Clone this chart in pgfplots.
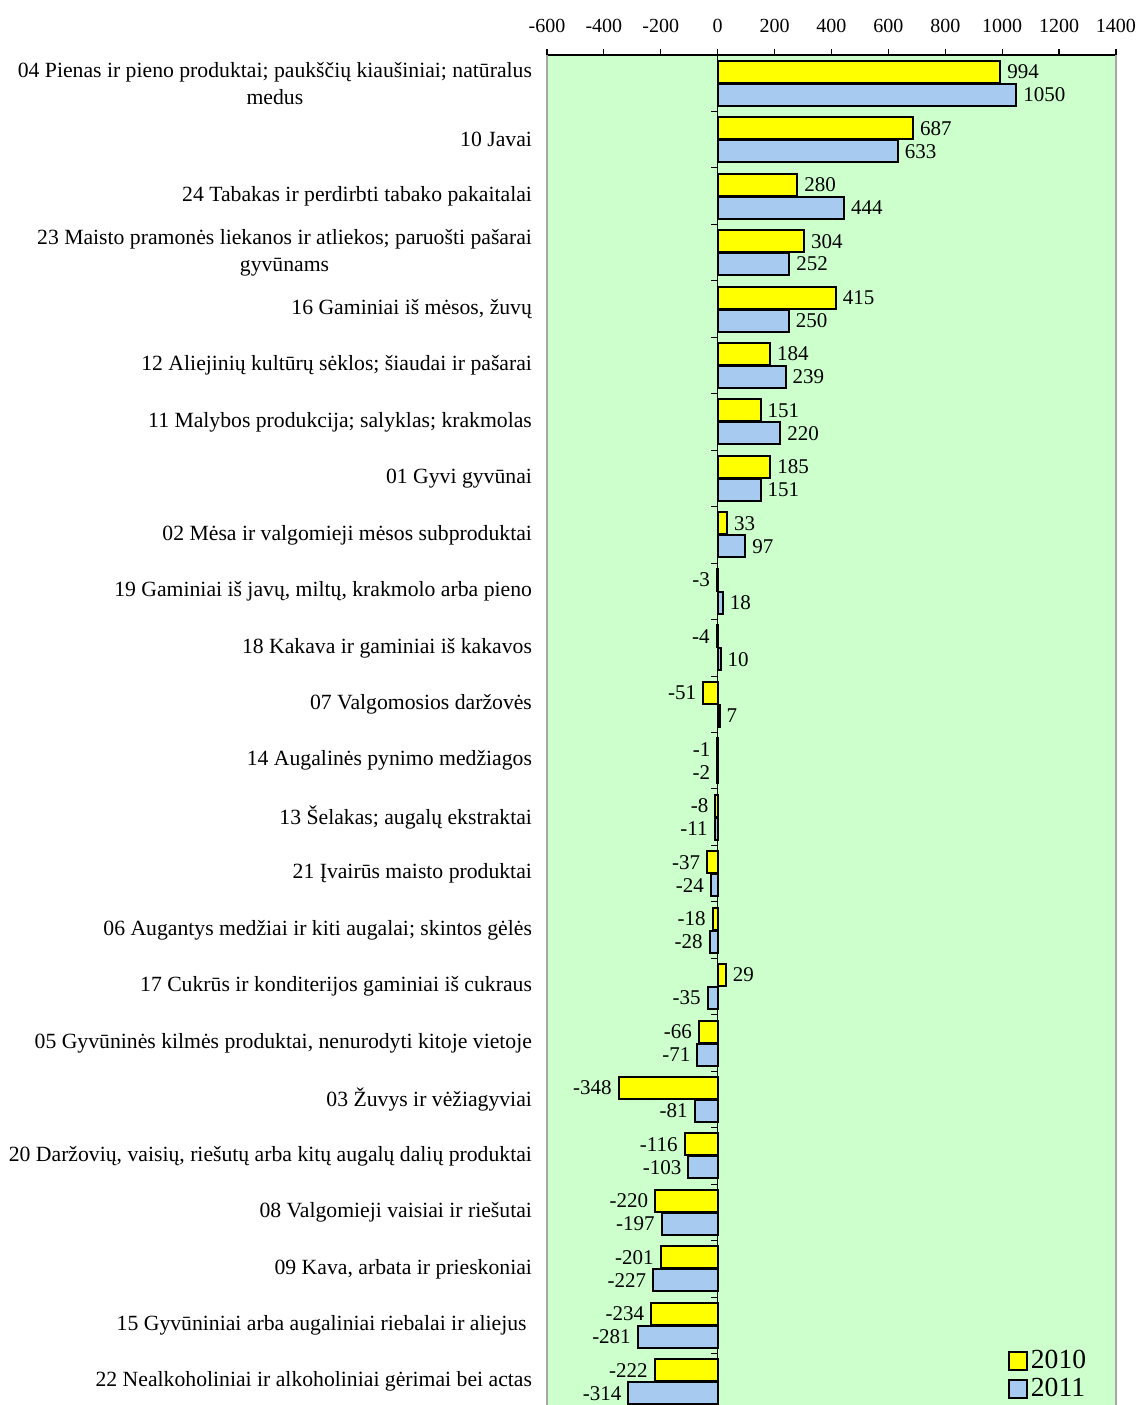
\documentclass[border=0pt]{standalone}
\usepackage{fontspec}
\setmainfont{Liberation Serif}
\usepackage{pgfplots}
\pgfplotsset{compat=1.18}
\usepackage{pgfplotstable}

\definecolor{bgGreen}{HTML}{CCFFCC}
\definecolor{barYellow}{HTML}{FFFF00}
\definecolor{barBlue}{HTML}{A6CAF0}

\pgfplotstableread[col sep=comma]{
idx,y2010,y2011
0,994,1050
1,687,633
2,280,444
3,304,252
4,415,250
5,184,239
6,151,220
7,185,151
8,33,97
9,-3,18
10,-4,10
11,-51,7
12,-1,-2
13,-8,-11
14,-37,-24
15,-18,-28
16,29,-35
17,-66,-71
18,-348,-81
19,-116,-103
20,-220,-197
21,-201,-227
22,-234,-281
23,-222,-314
}\datatable

\begin{document}
\begin{tikzpicture}
\begin{axis}[
  at={(0,0)}, anchor=south west,
  scale only axis, width=284.5pt, height=677.5pt,
  xbar, bar width=11pt,
  xmin=-600, xmax=1400, xtick={-600,-400,...,1400},
  ymin=-0.5, ymax=23.5, y dir=reverse,
  ytick={0,...,23},
  yticklabels={
    {04 Pienas ir pieno produktai; paukščių kiaušiniai; natūralus\\medus},
    {10 Javai},
    {24 Tabakas ir perdirbti tabako pakaitalai},
    {23 Maisto pramonės liekanos ir atliekos; paruošti pašarai\\gyvūnams},
    {16 Gaminiai iš mėsos, žuvų},
    {12 Aliejinių kultūrų sėklos; šiaudai ir pašarai},
    {11 Malybos produkcija; salyklas; krakmolas},
    {01 Gyvi gyvūnai},
    {02 Mėsa ir valgomieji mėsos subproduktai},
    {19 Gaminiai iš javų, miltų, krakmolo arba pieno},
    {18 Kakava ir gaminiai iš kakavos},
    {07 Valgomosios daržovės},
    {14 Augalinės pynimo medžiagos},
    {13 Šelakas; augalų ekstraktai},
    {21 Įvairūs maisto produktai},
    {06 Augantys medžiai ir kiti augalai; skintos gėlės},
    {17 Cukrūs ir konditerijos gaminiai iš cukraus},
    {05 Gyvūninės kilmės produktai, nenurodyti kitoje vietoje},
    {03 Žuvys ir vėžiagyviai},
    {20 Daržovių, vaisių, riešutų arba kitų augalų dalių produktai},
    {08 Valgomieji vaisiai ir riešutai},
    {09 Kava, arbata ir prieskoniai},
    {15 Gyvūniniai arba augaliniai riebalai ir aliejus\ },
    {22 Nealkoholiniai ir alkoholiniai gėrimai bei actas}},
  xtick pos=right, xticklabel pos=right,
  tick align=outside,
  major tick length=3pt,
  y tick style={draw=none},
  separate axis lines,
  x axis line style={black, line width=0.6pt},
  x tick style={black, line width=0.6pt},
  y axis line style={gray!70, line width=1pt},
  axis background/.style={fill=bgGreen},
  /pgf/number format/assume math mode=true,
  /pgf/number format/1000 sep={},
  xticklabel style={font=\fontsize{10}{12}\selectfont, yshift=4.5pt},
  yticklabel style={align=center, font=\fontsize{10.85}{13.5}\selectfont, xshift=-1pt},
  nodes near coords,
  nodes near coords style={font=\fontsize{10.5}{12}\selectfont, inner sep=3pt},
  legend style={draw=none, fill=none, at={(rel axis cs:0.964,0.002)}, anchor=south east,
    font=\fontsize{13.8}{15}\selectfont, row sep=0.5pt,
    nodes={inner sep=1.5pt}},
  legend image code/.code={\draw[#1, line width=1pt] (0pt,-4.5pt) rectangle (9pt,4.5pt);},
  legend cell align=left,
]
\draw[black, line width=0.6pt] (axis cs:0,-0.5) -- (axis cs:0,23.5);
\pgfplotsinvokeforeach{-0.5,0.5,...,23.5}{\draw[black, line width=0.5pt] (axis cs:0,#1) -- ([xshift=-3.5pt]axis cs:0,#1);}
\addplot[fill=barYellow, draw=black, line width=1pt, bar shift=5.75pt] table[x=y2010, y=idx] {\datatable};
\addplot[fill=barBlue, draw=black, line width=1pt, bar shift=-5.75pt] table[x=y2011, y=idx] {\datatable};
\legend{2010,2011}
\end{axis}
\pgfresetboundingbox
\path[use as bounding box] (-273.5pt,2.5pt) rectangle (296pt,705pt);
\end{tikzpicture}
\end{document}
